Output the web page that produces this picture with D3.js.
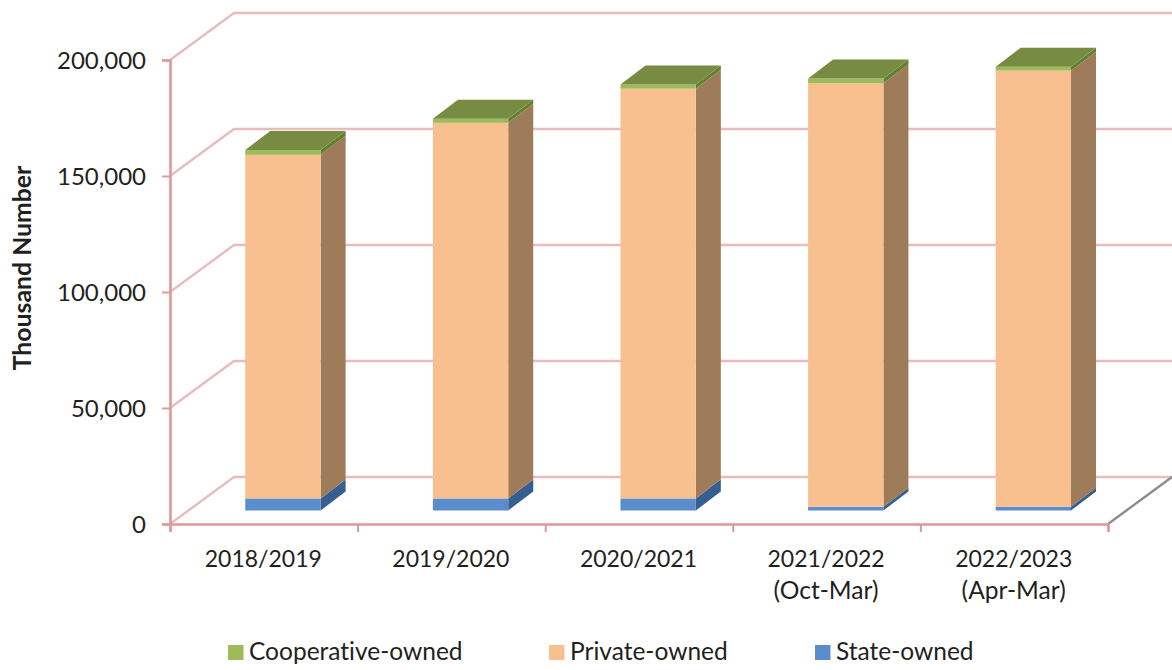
<!DOCTYPE html>
<html><head><meta charset="utf-8">
<script src="https://cdn.jsdelivr.net/npm/d3@7"></script>
<style>html,body{margin:0;padding:0;background:#fff}svg{display:block}text{font-family:Lato,"Open Sans",sans-serif;fill:#231f20;font-variant-ligatures:none}</style>
</head><body><svg id="c" width="1172" height="670"></svg>
<script>
const categories = [["2018/2019"],["2019/2020"],["2020/2021"],["2021/2022","(Oct-Mar)"],["2022/2023","(Apr-Mar)"]];
const stateOwned = [5200,5200,5200,1600,1600];
const privateOwned = [148100,161900,176600,182600,188000];
const cooperativeOwned = [2100,1800,1800,2000,1700];
const yTicks = [0,50000,100000,150000,200000];
const seriesNames = ["State-owned","Private-owned","Cooperative-owned"];
const legendOrder = ["Cooperative-owned","Private-owned","State-owned"];
const legendX = [228,549,815];
const front = {"State-owned":"#5b8ccb","Private-owned":"#f9c08f","Cooperative-owned":"#9dbb5b"};
const side = {"State-owned":"#355f90","Private-owned":"#9e7c5a","Cooperative-owned":"#64802f"};
const topFace = "#778c42";
const seriesValues = {"State-owned":stateOwned,"Private-owned":privateOwned,"Cooperative-owned":cooperativeOwned};

const wallDx=64, wallDy=-47, barDx=25, barDy=-19, offX=19, offY=-13.5;
const svg=d3.select("#c");
const catKeys=categories.map(c=>c.join(" "));
const x=d3.scaleBand().domain(catKeys).range([170,1108]).paddingInner(0.6).paddingOuter(0.3);
const y=d3.scaleLinear().domain([0,200000]).range([524,60]);
const pts=a=>a.map(p=>p.join(",")).join(" ");

// walls: gridlines
const grid=svg.append("g").attr("fill","none").attr("stroke","#e8bcbc").attr("stroke-width",2.4);
yTicks.forEach(t=>{
  grid.append("polyline").attr("points",pts([[170,y(t)],[170+wallDx,y(t)+wallDy],[1172,y(t)+wallDy]]));
});
svg.append("line").attr("x1",1108).attr("y1",y(0)).attr("x2",1172).attr("y2",y(0)+wallDy).attr("stroke","#8c8c8c").attr("stroke-width",2.4);

// bars
const stacks=d3.stack().keys(seriesNames).value((d,k)=>seriesValues[k][d])(d3.range(categories.length));
const barsG=svg.append("g");
categories.forEach((c,i)=>{
  const g=barsG.append("g");
  const x0=x(catKeys[i])+offX, x1=x0+x.bandwidth()+0.3;
  stacks.forEach((s,si)=>{
    const name=s.key, yb=y(s[i][0])+offY, yt=y(s[i][1])+offY;
    g.append("polygon").attr("points",pts([[x1,yb],[x1+barDx,yb+barDy],[x1+barDx,yt+barDy],[x1,yt]])).attr("fill",side[name]);
    g.append("rect").attr("x",x0).attr("y",yt).attr("width",x1-x0).attr("height",yb-yt).attr("fill",front[name]);
    if(si===stacks.length-1){
      g.append("polygon").attr("points",pts([[x0,yt],[x0+barDx,yt+barDy],[x1+barDx,yt+barDy],[x1,yt]])).attr("fill",topFace);
    }
  });
});

// axes
const axisColor="#da9a98";
const yAxis=svg.append("g").attr("transform","translate(170,0)").call(d3.axisLeft(y).tickValues(yTicks).tickSize(8).tickPadding(16).tickFormat(d3.format(",")));
const xTickScale=d3.scaleLinear().domain([0,categories.length]).range([170,1108]);
const xAxis=svg.append("g").attr("transform","translate(0,524)").call(d3.axisBottom(xTickScale).tickValues(d3.range(categories.length+1)).tickSize(8).tickFormat(""));
[yAxis,xAxis].forEach(a=>{
  a.select(".domain").attr("stroke",axisColor).attr("stroke-width",2.6);
  a.selectAll(".tick line").attr("stroke",axisColor).attr("stroke-width",2);
});
yAxis.selectAll("text").attr("font-size",24).attr("dy","0.37em").style("font-family","Lato").attr("fill","#231f20");

// category labels
const labels=svg.append("g").attr("text-anchor","middle");
categories.forEach((c,i)=>{
  const cx=x(catKeys[i])+x.bandwidth()/2-0.5;
  const t=labels.append("text").attr("x",cx).attr("y",567);
  c.forEach((l,j)=>t.append("tspan").attr("x",cx).attr("dy",j?32:0).attr("font-size",j?24.6:23).text(l));
});

// axis title
svg.append("text").attr("transform","translate(31,268) rotate(-90)").attr("text-anchor","middle").attr("font-size",24.8).attr("font-weight",700).text("Thousand Number");

// legend
legendOrder.forEach((n,i)=>{
  svg.append("rect").attr("x",legendX[i]).attr("y",645).attr("width",15.5).attr("height",15).attr("fill",front[n]);
  svg.append("text").attr("x",legendX[i]+21).attr("y",660).attr("font-size",24.5).text(n);
});
</script></body></html>
